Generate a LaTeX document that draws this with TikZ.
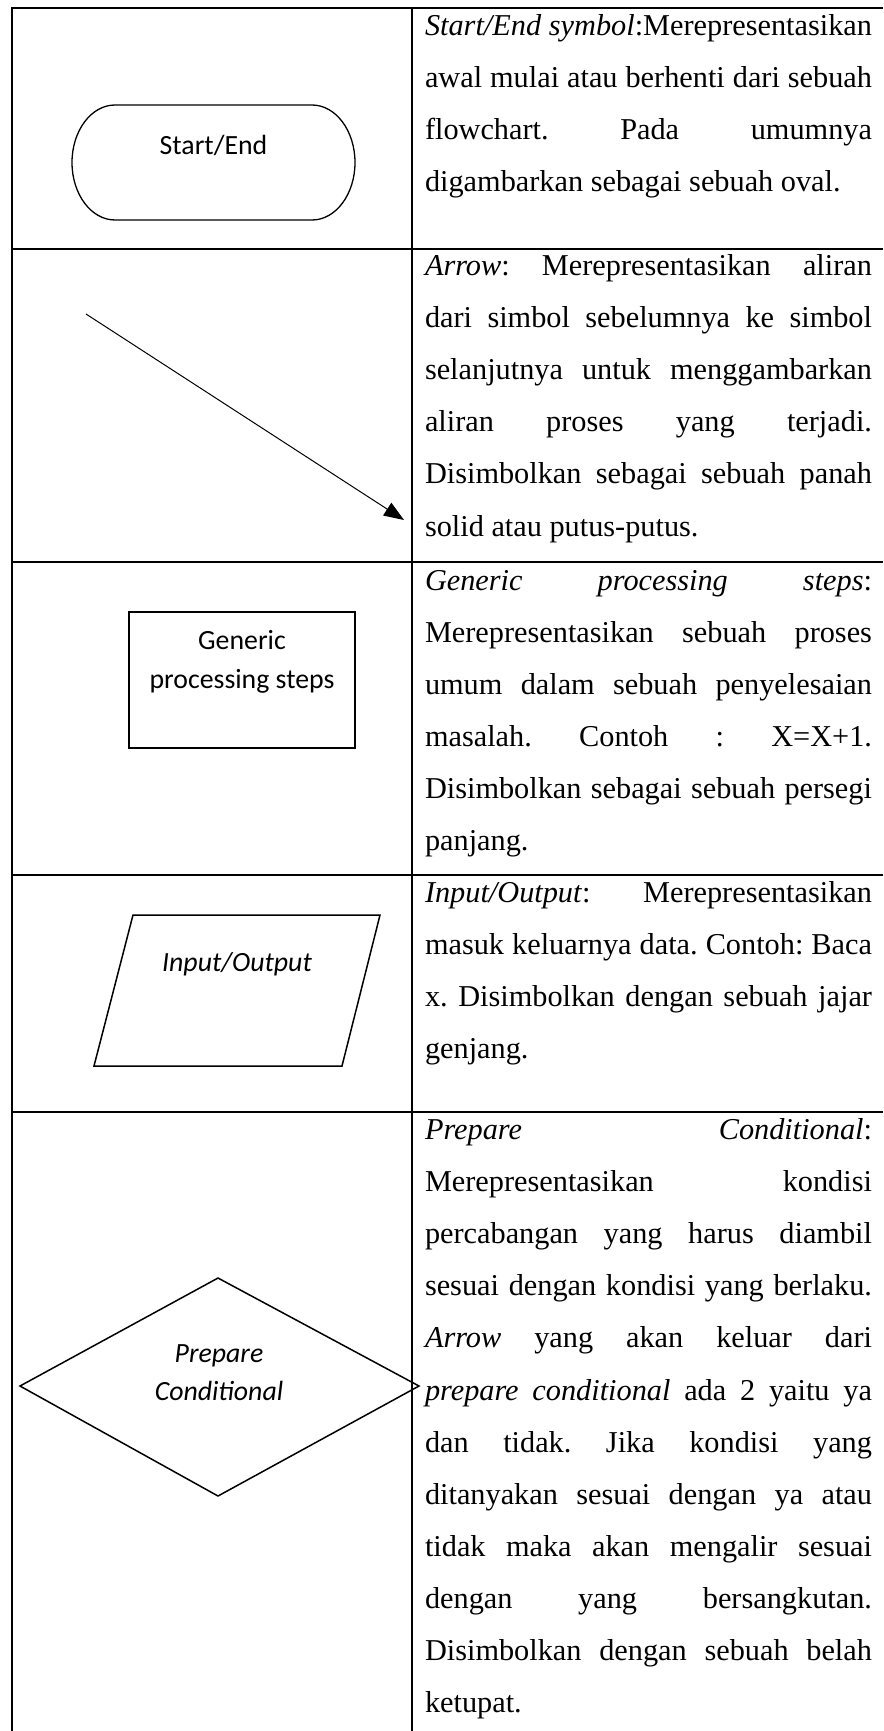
\documentclass[tikz,border=0pt]{standalone}
\usepackage{fontspec}
\setmainfont{Liberation Serif}
\newfontfamily\calibfont{Carlito}
\usetikzlibrary{arrows.meta}
\frenchspacing

% one justified line of the description column, and one ragged (last) line
\newcommand\jline[3]{\node[body] (#1) at (425,#2) {\makebox[447pt][s]{#3}};}
\newcommand\lline[3]{\node[body] (#1) at (425,#2) {#3};}

\begin{document}
\begin{tikzpicture}[x=1pt,y=-1pt,
  grid/.style={line width=1.8pt},
  outline/.style={line width=1.5pt, line join=miter},
  body/.style={inner sep=0pt, outer sep=0pt, anchor=base west,
               font=\frenchspacing\fontsize{30.3}{52.1}\selectfont},
  label/.style={inner sep=0pt, outer sep=0pt, anchor=base,
                font=\calibfont\fontsize{27.8}{39}\selectfont},
]
\useasboundingbox (0,0) rectangle (883,1731);
\fill[white] (0,0) rectangle (883,1731);

% ---- table rules ----
\draw[grid] (12,8) -- (12,1731);
\draw[grid] (412,8) -- (412,1731);
\foreach \y in {8,249,562,875,1112}
  \draw[grid] (11.1,\y) -- (883,\y);

% ---- row 1: terminal ----
\draw[outline, line width=1.3pt] (115,105) -- (312,105)
  arc[start angle=-90, end angle=90, x radius=43, y radius=57.5]
  -- (115,220)
  arc[start angle=90, end angle=270, x radius=43, y radius=57.5] -- cycle;
\node[label] (startend) at (213.5,155) {Start/End};

\jline{a1}{35.5}{\textit{Start/End symbol}:Merepresentasikan}
\jline{a2}{87.6}{awal mulai atau berhenti dari sebuah}
\jline{a3}{139.7}{flowchart. Pada umumnya}
\lline{a4}{191.8}{digambarkan sebagai sebuah oval.}

% ---- row 2: flow arrow ----
\coordinate (arrtail) at (86,314);
\coordinate (arrtip) at (404,520);
\draw[line width=1pt, -{Triangle[length=20pt,width=15pt]}] (arrtail) -- (arrtip);

\jline{b1}{275.5}{\textit{Arrow}: Merepresentasikan aliran}
\jline{b2}{327.6}{dari simbol sebelumnya ke simbol}
\jline{b3}{379.7}{selanjutnya untuk menggambarkan}
\jline{b4}{431.8}{aliran proses yang terjadi.}
\jline{b5}{483.9}{Disimbolkan sebagai sebuah panah}
\lline{b6}{536.0}{solid atau putus-putus.}

% ---- row 3: process box ----
\node[draw, outline, minimum width=226pt, minimum height=136pt, inner sep=0pt]
  (procbox) at (242,680) {};
\node[label] (proc1) at (242,649) {Generic};
\node[label] (proc2) at (242,688) {processing steps};

\jline{c1}{590}{\textit{Generic processing steps}:}
\jline{c2}{642.1}{Merepresentasikan sebuah proses}
\jline{c3}{694.2}{umum dalam sebuah penyelesaian}
\jline{c4}{746.3}{masalah. Contoh : X=X+1.}
\jline{c5}{798.4}{Disimbolkan sebagai sebuah persegi}
\lline{c6}{850.5}{panjang.}

% ---- row 4: data parallelogram ----
\draw[outline] (133,915) -- (380,915) -- (342,1066) -- (94,1066) -- cycle;
\node[label, font=\calibfont\itshape\fontsize{27.8}{39}\selectfont] (io) at (237,971) {Input/Output};

\jline{d1}{902.5}{\textit{Input/Output}: Merepresentasikan}
\jline{d2}{954.6}{masuk keluarnya data. Contoh: Baca}
\jline{d3}{1006.7}{x. Disimbolkan dengan sebuah jajar}
\lline{d4}{1058.8}{genjang.}

% ---- row 5: decision diamond ----
\draw[outline] (218,1278) -- (419,1386) -- (218,1496) -- (20,1386) -- cycle;
\node[label, font=\calibfont\itshape\fontsize{27.8}{39}\selectfont] (cond1) at (219,1362) {Prepare};
\node[label, font=\calibfont\itshape\fontsize{27.8}{39}\selectfont] (cond2) at (219,1400) {Conditional};

\jline{e1}{1139.5}{\textit{Prepare Conditional}:}
\jline{e2}{1191.6}{Merepresentasikan kondisi}
\jline{e3}{1243.7}{percabangan yang harus diambil}
\jline{e4}{1295.8}{sesuai dengan kondisi yang berlaku.}
\jline{e5}{1347.9}{\textit{Arrow} yang akan keluar dari}
\jline{e6}{1400.0}{\textit{prepare conditional} ada 2 yaitu ya}
\jline{e7}{1452.1}{dan tidak. Jika kondisi yang}
\jline{e8}{1504.2}{ditanyakan sesuai dengan ya atau}
\jline{e9}{1556.3}{tidak maka akan mengalir sesuai}
\jline{e10}{1608.4}{dengan yang bersangkutan.}
\jline{e11}{1660.5}{Disimbolkan dengan sebuah belah}
\lline{e12}{1712.6}{ketupat.}
\end{tikzpicture}
\end{document}
